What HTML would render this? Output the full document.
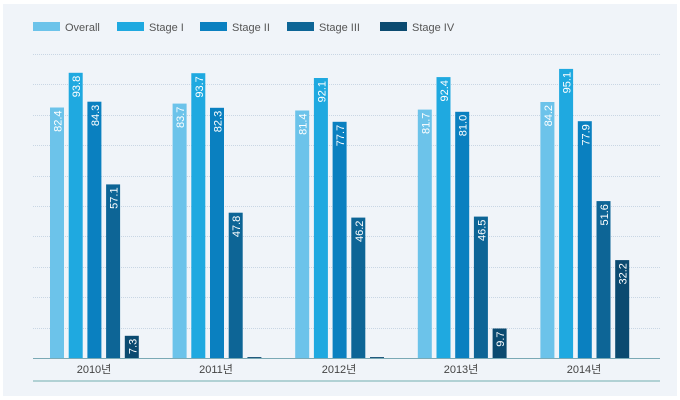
<!DOCTYPE html>
<html><head><meta charset="utf-8"><style>
html,body{margin:0;padding:0;background:#fff}
svg{display:block;font-family:"Liberation Sans","Noto Sans CJK KR",sans-serif}
</style></head><body>
<svg width="680" height="400" viewBox="0 0 680 400">
<rect x="3" y="4" width="674" height="392" fill="#f0f4f9"/>
<g stroke="#c9d6e4" stroke-dasharray="1,1" stroke-width="1">
<line x1="33" x2="660" y1="54.5" y2="54.5"/><line x1="33" x2="660" y1="84.5" y2="84.5"/>
<line x1="33" x2="660" y1="115.5" y2="115.5"/><line x1="33" x2="660" y1="145.5" y2="145.5"/>
<line x1="33" x2="660" y1="176.5" y2="176.5"/><line x1="33" x2="660" y1="206.5" y2="206.5"/>
<line x1="33" x2="660" y1="236.5" y2="236.5"/><line x1="33" x2="660" y1="267.5" y2="267.5"/>
<line x1="33" x2="660" y1="297.5" y2="297.5"/><line x1="33" x2="660" y1="328.5" y2="328.5"/>
</g>
<g font-size="11" fill="#555">
<rect x="33" y="22" width="27" height="9" fill="#6cc3ea"/><text x="65" y="31">Overall</text>
<rect x="117" y="22" width="27" height="9" fill="#1fa9e0"/><text x="149" y="31">Stage I</text>
<rect x="200" y="22" width="27" height="9" fill="#0a80c0"/><text x="232" y="31">Stage II</text>
<rect x="287" y="22" width="27" height="9" fill="#0d6596"/><text x="319" y="31">Stage III</text>
<rect x="380" y="22" width="27" height="9" fill="#0b4a70"/><text x="412" y="31">Stage IV</text>
</g>
<g id="bars"></g>
<line x1="33" x2="660" y1="358.5" y2="358.5" stroke="#7aa9b5" stroke-width="1"/>
<line x1="33" x2="660" y1="381" y2="381" stroke="#9cc5c8" stroke-width="1.5"/>
<g font-size="11" fill="#444" text-anchor="middle">
<text x="94" y="373">2010년</text><text x="216" y="373">2011년</text><text x="339" y="373">2012년</text>
<text x="461" y="373">2013년</text><text x="584" y="373">2014년</text>
</g>
</svg>
<script>
var d=[[82.4,93.8,84.3,57.1,7.3],[83.7,93.7,82.3,47.8,0.3],[81.4,92.1,77.7,46.2,0.3],[81.7,92.4,81.0,46.5,9.7],[84.2,95.1,77.9,51.6,32.2]];
var c=["#6cc3ea","#1fa9e0","#0a80c0","#0d6596","#0b4a70"];
var s="";
for(var g=0;g<5;g++)for(var i=0;i<5;i++){
var v=d[g][i],x=50+g*122.6+i*18.7,h=v*3.04,y=358-h;
s+='<rect x="'+x.toFixed(1)+'" y="'+y.toFixed(1)+'" width="14" height="'+h.toFixed(1)+'" fill="'+c[i]+'"/>';
if(v>1){var tx=x+11.5,ty=y+3;
s+='<text transform="translate('+tx.toFixed(1)+','+ty.toFixed(1)+') rotate(-90)" text-anchor="end" font-size="11" fill="#fff">'+v.toFixed(1)+'</text>';}
}
document.getElementById("bars").innerHTML=s;
</script>
</body></html>
